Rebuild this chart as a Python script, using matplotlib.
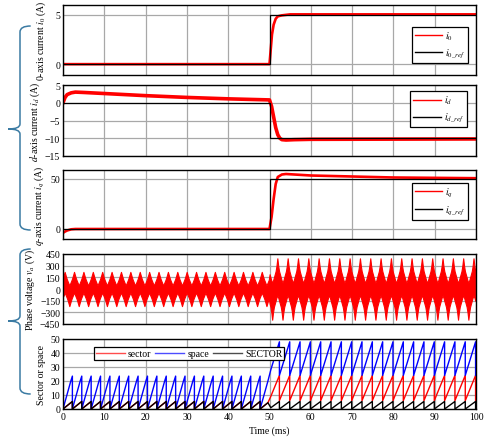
import numpy as np
import matplotlib.pyplot as plt
from matplotlib.path import Path
from matplotlib.patches import PathPatch

plt.rcParams['font.family'] = ['Liberation Serif', 'DejaVu Serif']
plt.rcParams['mathtext.fontset'] = 'stix'

# ---- data (time in ms) ----
t_i0 = [0, 50, 50.3, 50.6, 51, 51.5, 52, 53, 55, 100]
i0 = [0, 0, 1.5, 3.0, 4.0, 4.6, 4.85, 4.95, 5.05, 5.05]
t_ref = [0, 50, 50, 100]
i0_ref = [0, 0, 5, 5]

t_id = [0, 0.5, 1, 2, 3, 5, 10, 20, 30, 40, 50, 50.5, 51, 51.5, 52, 52.5, 53, 54, 56, 60, 100]
id_ = [0, 1.5, 2.3, 2.8, 3.0, 2.9, 2.6, 2.0, 1.5, 1.1, 0.8, -1, -4, -7, -9, -10, -10.4, -10.5, -10.4, -10.3, -10.2]
id_ref = [0, 0, -10, -10]

t_iq = [0, 0.3, 1, 2, 3, 50, 50.5, 51, 51.5, 52, 53, 54, 56, 60, 70, 80, 100]
iq = [-4, -3, -1.5, -0.3, 0, 0, 12, 30, 45, 52, 54.5, 55, 54.5, 53.5, 52.5, 51.5, 50.8]
iq_ref = [0, 0, 50, 50]

# phase voltage: envelope of one electrical cycle (phase steps of 1/12)
env_pos = [0, 1/12, 2/12, 3/12, 4/12, 5/12, 6/12, 7/12, 8/12, 9/12, 10/12, 11/12, 1]
v_up_before = [220, 185, 150, 120, 95, 70, 45, 70, 95, 120, 150, 185, 220]
v_lo_before = [-45, -70, -95, -120, -150, -185, -220, -185, -150, -120, -95, -70, -45]
v_up_after = [395, 300, 230, 190, 150, 110, 80, 110, 150, 190, 230, 300, 395]
v_lo_after = [-80, -110, -150, -190, -230, -300, -395, -300, -230, -190, -150, -110, -80]
period_before = 50 / 22
period_after = 2.5
v_peak_before = 0.4
v_peak_after = 51.9

# sector / space ramps for one cycle (start .. end of cycle)
saw_pos = [0, 1/6, 2/6, 3/6, 4/6, 5/6, 1]
SECTOR_lvl = [0, 0.9, 1.8, 2.7, 3.6, 4.5, 5.4]
sector_lvl_after = [6, 9, 12, 15, 18, 21, 24]
space_lvl_before = [0, 4, 8, 12, 16, 20, 23.5]
space_lvl_after = [24, 28, 32, 36, 40, 44, 48]
saw_start_after = 49.9


def cycles(first, period, pos, vals, t0, t1):
    xs, ys = [], []
    s = first
    while s < t1:
        for p, v in zip(pos, vals):
            x = s + p * period
            if t0 <= x <= t1:
                xs.append(x)
                ys.append(v)
        s += period
    return xs, ys


fig = plt.figure(figsize=(4.9, 4.39), dpi=100)
W, H = 490.0, 439.0
left, right = 63, 476
rows = [(6, 76), (86, 157), (171, 240), (255, 325), (340, 410)]
axs = []
for top, bot in rows:
    ax = fig.add_axes([left / W, 1 - bot / H, (right - left) / W, (bot - top) / H])
    axs.append(ax)

for ax in axs:
    ax.set_xlim(0, 100)
    ax.set_xticks(range(0, 101, 10))
    ax.grid(True, color='#a8a8a8', lw=0.9)
    ax.set_axisbelow(True)
    ax.tick_params(labelsize=7, length=0, pad=2)
    for sp in ax.spines.values():
        sp.set_linewidth(1.0)
    if ax is not axs[-1]:
        ax.tick_params(labelbottom=False)

leg_kw = dict(fontsize=7, frameon=True, fancybox=False, edgecolor='black',
              framealpha=1, handlelength=2.8, borderpad=0.3, labelspacing=0.5,
              handletextpad=0.3, borderaxespad=0)


def thin_handles(lg):
    lg.get_frame().set_linewidth(0.9)
    for h in lg.get_lines():
        h.set_linewidth(1.0)


# panel 1: i0
ax = axs[0]
ax.plot(t_i0, i0, color='red', lw=1.9, label=r'$i_0$')
ax.plot(t_ref, i0_ref, color='black', lw=0.9, label=r'$i_{0\_ref}$')
ax.set_ylim(-1.1, 6)
ax.set_yticks([0, 5])
ax.set_ylabel(r'0-axis current $i_0$ (A)', fontsize=7, labelpad=5)
thin_handles(ax.legend(loc='lower right', bbox_to_anchor=(0.98, 0.17), **leg_kw))

# panel 2: id
ax = axs[1]
ax.plot(t_id, id_, color='red', lw=2.6, label=r'$i_d$')
ax.plot(t_ref, id_ref, color='black', lw=0.9, label=r'$i_{d\_ref}$')
ax.set_ylim(-15, 5)
ax.set_yticks([5, 0, -5, -10, -15])
ax.set_ylabel(r'$d$-axis current $i_d$ (A)', fontsize=7, labelpad=2)
thin_handles(ax.legend(loc='upper right', bbox_to_anchor=(0.977, 0.915), **leg_kw))

# panel 3: iq
ax = axs[2]
ax.plot(t_iq, iq, color='red', lw=1.9, label=r'$i_q$')
ax.plot(t_ref, iq_ref, color='black', lw=0.9, label=r'$i_{q\_ref}$')
ax.set_ylim(-10, 59)
ax.set_yticks([0, 50])
ax.set_ylabel(r'$q$-axis current $i_q$ (A)', fontsize=7, labelpad=3)
thin_handles(ax.legend(loc='lower right', bbox_to_anchor=(0.98, 0.275), **leg_kw))

# panel 4: phase voltage
ax = axs[3]
tb, ub = cycles(v_peak_before - period_before, period_before, env_pos, v_up_before, 0, 50)
_, lb = cycles(v_peak_before - period_before, period_before, env_pos, v_lo_before, 0, 50)
ta, ua = cycles(v_peak_after - 2 * period_after, period_after, env_pos, v_up_after, 50, 100.01)
_, la = cycles(v_peak_after - 2 * period_after, period_after, env_pos, v_lo_after, 50, 100.01)
ax.fill_between(tb + ta, lb + la, ub + ua, color='red', lw=0.8, edgecolor='red')
ax.set_ylim(-450, 450)
ax.set_yticks(range(-450, 451, 150))
ax.set_ylabel(r'Phase voltage $v_a$ (V)', fontsize=7, labelpad=2)

# panel 5: sector / space
ax = axs[4]
xb, sb = cycles(0, period_before, saw_pos, SECTOR_lvl, 0, 50)
xa, sa = cycles(saw_start_after, period_after, saw_pos, sector_lvl_after, 50, 100)
_, Sa = cycles(saw_start_after, period_after, saw_pos, SECTOR_lvl, 50, 100)
_, pb = cycles(0, period_before, saw_pos, space_lvl_before, 0, 50)
_, pa = cycles(saw_start_after, period_after, saw_pos, space_lvl_after, 50, 100)
ax.plot(xb + xa, sb + sa, color='red', lw=1, label='sector')
ax.plot(xb + xa, pb + pa, color='blue', lw=1, label='space')
ax.plot(xb + xa, sb + Sa, color='black', lw=1, label='SECTOR')
ax.set_ylim(0, 50)
ax.set_yticks(range(0, 51, 10))
ax.set_ylabel('Sector or space', fontsize=7, labelpad=3)
ax.set_xlabel('Time (ms)', fontsize=7, labelpad=3)
lg = ax.legend(loc='upper left', bbox_to_anchor=(0.075, 0.886), ncol=3,
               columnspacing=0.4, **dict(leg_kw, borderpad=0.2, handlelength=3.0))
thin_handles(lg)
for h in lg.get_lines():
    h.set_alpha(0.7)


# curly braces on the left
def brace(y_top, y_mid, y_bot, x_end=30.7, x_line=20, x_tip=8.3):
    px = [(x_end, y_top), (x_line, y_top), (x_line, y_top + 6),
          (x_line, y_mid - 5), (x_line, y_mid), (x_tip, y_mid),
          (x_line, y_mid), (x_line, y_mid + 5),
          (x_line, y_bot - 6), (x_line, y_bot), (x_end, y_bot)]
    codes = [Path.MOVETO, Path.CURVE3, Path.CURVE3, Path.LINETO,
             Path.CURVE3, Path.CURVE3, Path.CURVE3, Path.CURVE3,
             Path.LINETO, Path.CURVE3, Path.CURVE3]
    verts = [(x / W, 1 - y / H) for x, y in px]
    fig.add_artist(PathPatch(Path(verts, codes), transform=fig.transFigure,
                             fill=False, edgecolor='#3b7ba3', lw=1.1))


brace(27, 130, 231)
brace(250, 322, 395)

fig.savefig('out.png', dpi=100)
